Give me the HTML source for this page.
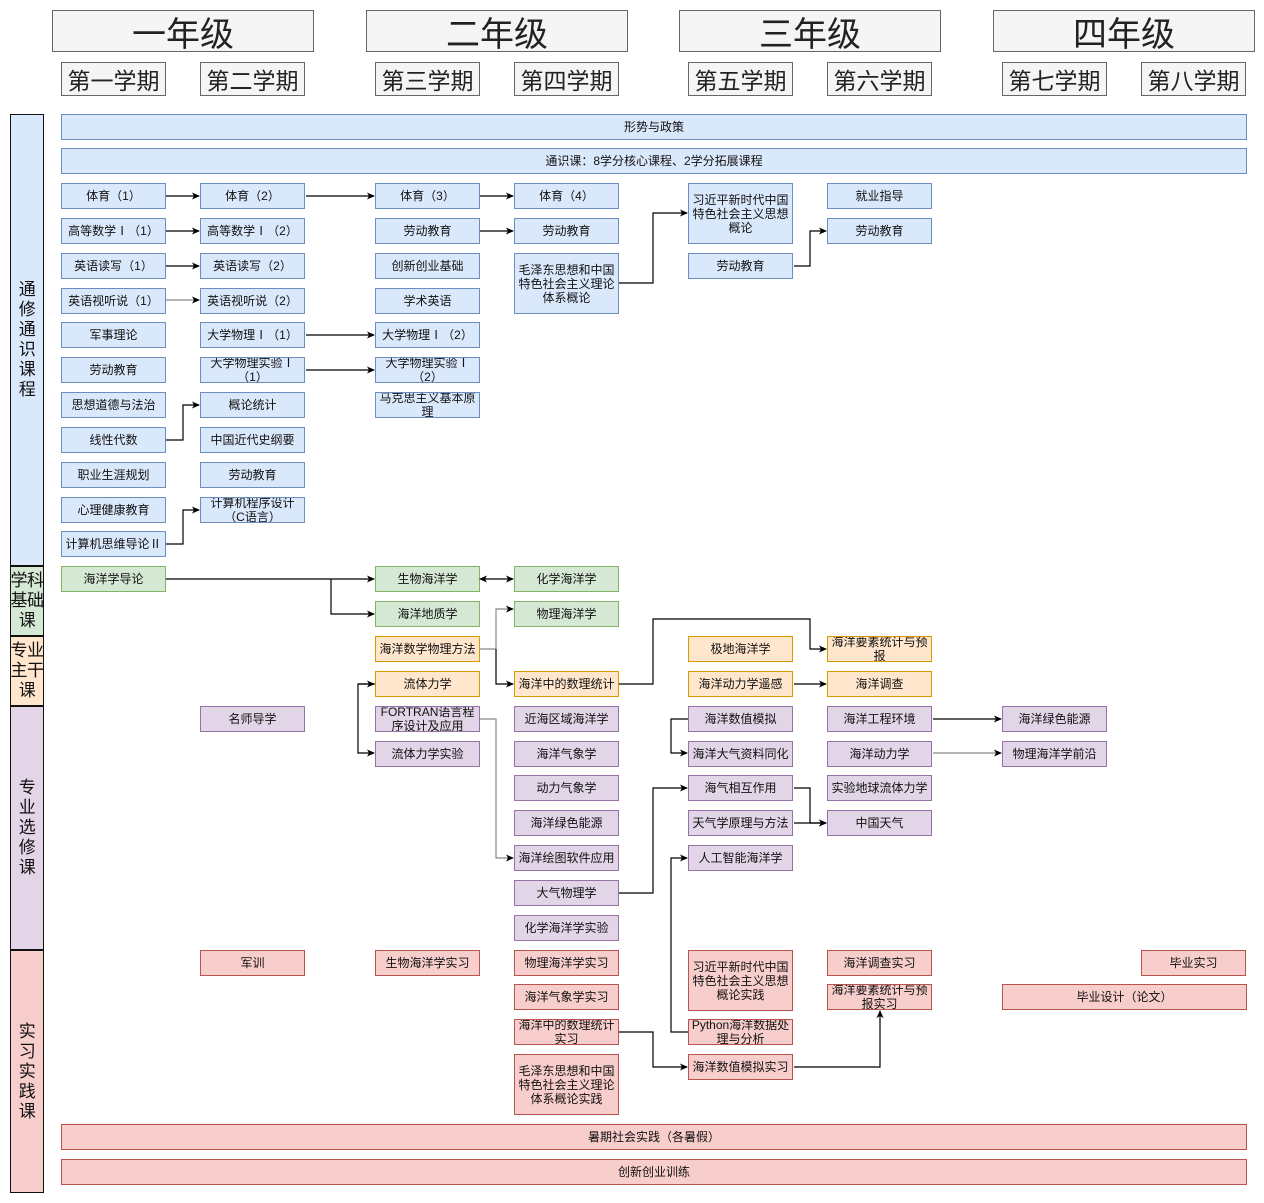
<!DOCTYPE html>
<html><head><meta charset="utf-8"><style>
*{margin:0;padding:0;box-sizing:border-box}
body{width:1264px;height:1203px;background:#fff;position:relative;overflow:hidden;font-family:"Liberation Sans","Noto Sans CJK SC",sans-serif;color:#111}
.b{position:absolute;width:105px;height:26px;border:1.3px solid;display:flex;align-items:center;justify-content:center;text-align:center;font-size:12px;line-height:14px;padding:0 1px;overflow:hidden}
.bl{background:#dae8fc;border-color:#6c8ebf}
.gr{background:#d5e8d4;border-color:#82b366}
.or{background:#ffe6cc;border-color:#d79b00}
.pu{background:#e1d5e7;border-color:#9673a6}
.re{background:#f8cecc;border-color:#b85450}
.h{position:absolute;background:#f5f5f5;border:1px solid #666;display:flex;align-items:center;justify-content:center;color:#222}
.y{top:10px;height:42px;width:262px;font-size:34px}
.s{top:62px;height:34px;width:105px;font-size:23px}
.cat{position:absolute;left:10px;width:34px;border:1.3px solid;display:flex;align-items:center;justify-content:center;text-align:center;font-size:17px;line-height:20px;white-space:nowrap;overflow:visible;letter-spacing:-0.5px}
svg{position:absolute;left:0;top:0}
</style></head><body>
<div class="h y" style="left:52px">一年级</div>
<div class="h y" style="left:366px">二年级</div>
<div class="h y" style="left:679px">三年级</div>
<div class="h y" style="left:993px">四年级</div>
<div class="h s" style="left:61px">第一学期</div>
<div class="h s" style="left:200px">第二学期</div>
<div class="h s" style="left:375px">第三学期</div>
<div class="h s" style="left:514px">第四学期</div>
<div class="h s" style="left:688px">第五学期</div>
<div class="h s" style="left:827px">第六学期</div>
<div class="h s" style="left:1002px">第七学期</div>
<div class="h s" style="left:1141px">第八学期</div>

<div class="cat bl" style="top:114px;height:452px">通<br>修<br>通<br>识<br>课<br>程</div>
<div class="cat gr" style="top:566px;height:70px">学科<br>基础<br>课</div>
<div class="cat or" style="top:636px;height:70px">专业<br>主干<br>课</div>
<div class="cat pu" style="top:706px;height:244px">专<br>业<br>选<br>修<br>课</div>
<div class="cat re" style="top:950px;height:243px">实<br>习<br>实<br>践<br>课</div>

<div class="b bl" style="left:61px;top:114px;width:1186px">形势与政策</div>
<div class="b bl" style="left:61px;top:148px;width:1186px">通识课：8学分核心课程、2学分拓展课程</div>
<div class="b re" style="left:61px;top:1124px;width:1186px">暑期社会实践（各暑假）</div>
<div class="b re" style="left:61px;top:1159px;width:1186px">创新创业训练</div>

<!-- col1 -->
<div class="b bl" style="left:61px;top:183px">体育（1）</div>
<div class="b bl" style="left:61px;top:218px">高等数学Ⅰ（1）</div>
<div class="b bl" style="left:61px;top:253px">英语读写（1）</div>
<div class="b bl" style="left:61px;top:288px">英语视听说（1）</div>
<div class="b bl" style="left:61px;top:322px">军事理论</div>
<div class="b bl" style="left:61px;top:357px">劳动教育</div>
<div class="b bl" style="left:61px;top:392px">思想道德与法治</div>
<div class="b bl" style="left:61px;top:427px">线性代数</div>
<div class="b bl" style="left:61px;top:462px">职业生涯规划</div>
<div class="b bl" style="left:61px;top:497px">心理健康教育</div>
<div class="b bl" style="left:61px;top:531px">计算机思维导论Ⅱ</div>
<div class="b gr" style="left:61px;top:566px">海洋学导论</div>
<!-- col2 -->
<div class="b bl" style="left:200px;top:183px">体育（2）</div>
<div class="b bl" style="left:200px;top:218px">高等数学Ⅰ（2）</div>
<div class="b bl" style="left:200px;top:253px">英语读写（2）</div>
<div class="b bl" style="left:200px;top:288px">英语视听说（2）</div>
<div class="b bl" style="left:200px;top:322px">大学物理Ⅰ（1）</div>
<div class="b bl" style="left:200px;top:357px">大学物理实验Ⅰ（1）</div>
<div class="b bl" style="left:200px;top:392px">概论统计</div>
<div class="b bl" style="left:200px;top:427px">中国近代史纲要</div>
<div class="b bl" style="left:200px;top:462px">劳动教育</div>
<div class="b bl" style="left:200px;top:497px">计算机程序设计（C语言）</div>
<div class="b pu" style="left:200px;top:706px">名师导学</div>
<div class="b re" style="left:200px;top:950px">军训</div>
<!-- col3 -->
<div class="b bl" style="left:375px;top:183px">体育（3）</div>
<div class="b bl" style="left:375px;top:218px">劳动教育</div>
<div class="b bl" style="left:375px;top:253px">创新创业基础</div>
<div class="b bl" style="left:375px;top:288px">学术英语</div>
<div class="b bl" style="left:375px;top:322px">大学物理Ⅰ（2）</div>
<div class="b bl" style="left:375px;top:357px">大学物理实验Ⅰ（2）</div>
<div class="b bl" style="left:375px;top:392px">马克思主义基本原理</div>
<div class="b gr" style="left:375px;top:566px">生物海洋学</div>
<div class="b gr" style="left:375px;top:601px">海洋地质学</div>
<div class="b or" style="left:375px;top:636px">海洋数学物理方法</div>
<div class="b or" style="left:375px;top:671px">流体力学</div>
<div class="b pu" style="left:375px;top:706px">FORTRAN语言程序设计及应用</div>
<div class="b pu" style="left:375px;top:741px">流体力学实验</div>
<div class="b re" style="left:375px;top:950px">生物海洋学实习</div>
<!-- col4 -->
<div class="b bl" style="left:514px;top:183px">体育（4）</div>
<div class="b bl" style="left:514px;top:218px">劳动教育</div>
<div class="b bl" style="left:514px;top:253px;height:61px">毛泽东思想和中国特色社会主义理论体系概论</div>
<div class="b gr" style="left:514px;top:566px">化学海洋学</div>
<div class="b gr" style="left:514px;top:601px">物理海洋学</div>
<div class="b or" style="left:514px;top:671px">海洋中的数理统计</div>
<div class="b pu" style="left:514px;top:706px">近海区域海洋学</div>
<div class="b pu" style="left:514px;top:741px">海洋气象学</div>
<div class="b pu" style="left:514px;top:775px">动力气象学</div>
<div class="b pu" style="left:514px;top:810px">海洋绿色能源</div>
<div class="b pu" style="left:514px;top:845px">海洋绘图软件应用</div>
<div class="b pu" style="left:514px;top:880px">大气物理学</div>
<div class="b pu" style="left:514px;top:915px">化学海洋学实验</div>
<div class="b re" style="left:514px;top:950px">物理海洋学实习</div>
<div class="b re" style="left:514px;top:984px">海洋气象学实习</div>
<div class="b re" style="left:514px;top:1019px">海洋中的数理统计实习</div>
<div class="b re" style="left:514px;top:1054px;height:61px">毛泽东思想和中国特色社会主义理论体系概论实践</div>
<!-- col5 -->
<div class="b bl" style="left:688px;top:183px;height:61px">习近平新时代中国特色社会主义思想概论</div>
<div class="b bl" style="left:688px;top:253px">劳动教育</div>
<div class="b or" style="left:688px;top:636px">极地海洋学</div>
<div class="b or" style="left:688px;top:671px">海洋动力学遥感</div>
<div class="b pu" style="left:688px;top:706px">海洋数值模拟</div>
<div class="b pu" style="left:688px;top:741px">海洋大气资料同化</div>
<div class="b pu" style="left:688px;top:775px">海气相互作用</div>
<div class="b pu" style="left:688px;top:810px">天气学原理与方法</div>
<div class="b pu" style="left:688px;top:845px">人工智能海洋学</div>
<div class="b re" style="left:688px;top:950px;height:61px">习近平新时代中国特色社会主义思想概论实践</div>
<div class="b re" style="left:688px;top:1019px">Python海洋数据处理与分析</div>
<div class="b re" style="left:688px;top:1054px">海洋数值模拟实习</div>
<!-- col6 -->
<div class="b bl" style="left:827px;top:183px">就业指导</div>
<div class="b bl" style="left:827px;top:218px">劳动教育</div>
<div class="b or" style="left:827px;top:636px">海洋要素统计与预报</div>
<div class="b or" style="left:827px;top:671px">海洋调查</div>
<div class="b pu" style="left:827px;top:706px">海洋工程环境</div>
<div class="b pu" style="left:827px;top:741px">海洋动力学</div>
<div class="b pu" style="left:827px;top:775px">实验地球流体力学</div>
<div class="b pu" style="left:827px;top:810px">中国天气</div>
<div class="b re" style="left:827px;top:950px">海洋调查实习</div>
<div class="b re" style="left:827px;top:984px">海洋要素统计与预报实习</div>
<!-- col7/8 -->
<div class="b pu" style="left:1002px;top:706px">海洋绿色能源</div>
<div class="b pu" style="left:1002px;top:741px">物理海洋学前沿</div>
<div class="b re" style="left:1141px;top:950px">毕业实习</div>
<div class="b re" style="left:1002px;top:984px;width:245px">毕业设计（论文）</div>

<svg width="1264" height="1203" viewBox="0 0 1264 1203">
<defs>
<marker id="a" markerWidth="8" markerHeight="8" refX="7" refY="4" orient="auto" markerUnits="userSpaceOnUse"><path d="M0,0.5 L8,4 L0,7.5 L2,4z" fill="#000"/></marker>
<marker id="s" markerWidth="8" markerHeight="8" refX="1" refY="4" orient="auto" markerUnits="userSpaceOnUse"><path d="M8,0.5 L0,4 L8,7.5 L6,4z" fill="#000"/></marker>
</defs>
<g fill="none" stroke="#000" stroke-width="1.2" marker-end="url(#a)">
<path d="M166,196H199"/>
<path d="M306,196H374"/>
<path d="M480,196H513"/>
<path d="M166,231H199"/>
<path d="M166,266H199"/>
<path d="M166,300H199" stroke="#888"/>
<path d="M480,231H513"/>
<path d="M306,335H374"/>
<path d="M306,370H374"/>
<path d="M166,440H183V405H199"/>
<path d="M166,544H183V510H199"/>
<path d="M619,283H653V213H687"/>
<path d="M794,266H810V231H826"/>
<path d="M166,579H374"/>
<path d="M331,579V614H374"/>
<path d="M480,579H513" marker-start="url(#s)"/>
<path d="M480,649H496V609H513" stroke="#888"/>
<path d="M496,649V684H513"/>
<path d="M619,684H653V619H810V649H826"/>
<path d="M794,684H826"/>
<path d="M375,684H358V753H374"/>
<path d="M358,684H374"/>
<path d="M480,719H496V858H513" stroke="#888"/>
<path d="M688,719H671V753H687"/>
<path d="M619,893H653V788H687"/>
<path d="M794,788H810V823H826"/>
<path d="M794,823H826"/>
<path d="M933,719H1001"/>
<path d="M933,753H1001" stroke="#888"/>
<path d="M688,1032H671V858H687"/>
<path d="M619,1032H653V1067H687"/>
<path d="M794,1067H880V1011"/>
</g>
</svg>
</body></html>
